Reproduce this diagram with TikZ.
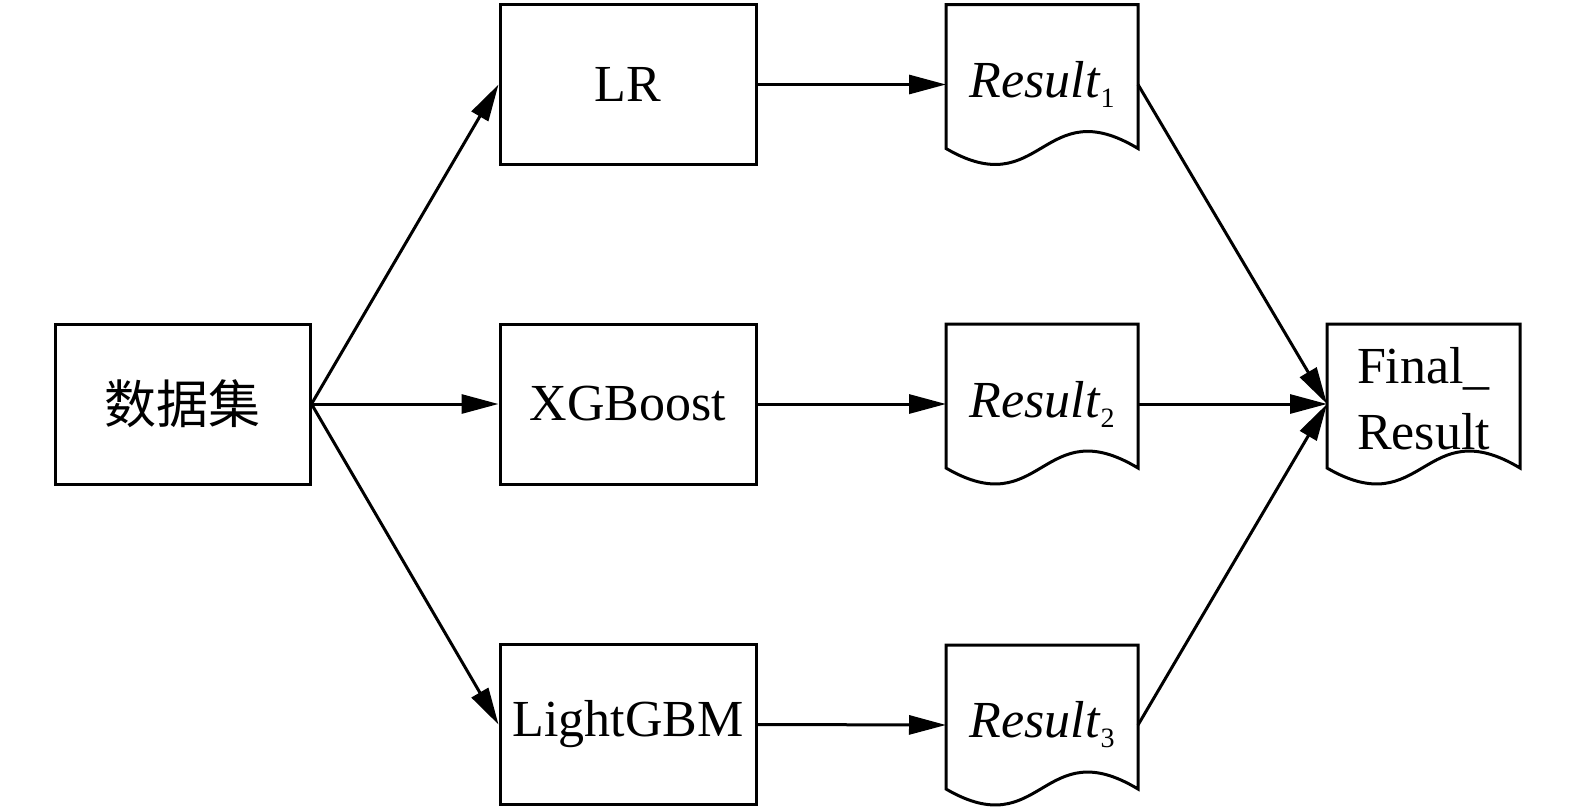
\documentclass[tikz,border=0pt]{standalone}
\usepackage{fontspec}
\setmainfont{Liberation Serif}
\newfontfamily\cjk{Noto Sans CJK SC}
\usetikzlibrary{arrows.meta,calc}
\tikzset{
  boxnode/.style={draw, line width=1.5pt, minimum width=128pt, minimum height=80pt, inner sep=0pt, font=\fontsize{26}{30.5}\selectfont},
  docnode/.style={minimum width=96pt, minimum height=80pt, inner sep=0pt, outer sep=0pt, font=\fontsize{26}{30.5}\selectfont, align=center},
  docline/.style={line width=1.5pt, line join=miter},
  conn/.style={line width=1.5pt, -{Triangle[length=18.5pt,width=9.5pt]}}
}
\newcommand{\docoutline}[1]{%
  \draw[docline] (#1.north west) -- (#1.north east) -- ($(#1.south east)+(0,-16)$)
    .. controls ($(#1.south)+(0,-74)$) and ($(#1.south)+(0,40)$) .. ($(#1.south west)+(0,-16)$) -- cycle;}
\newcommand{\res}[1]{\raisebox{2.5pt}{\textit{Result}\raisebox{-5pt}{\fontsize{14}{14}\selectfont #1}}}
\begin{document}
\begin{tikzpicture}[x=0.5pt,y=-0.5pt]
\useasboundingbox (0,0) rectangle (1575,810);
\node[boxnode, minimum width=127.5pt] (data) at (182.5,404) {\cjk 数据集};
\node[boxnode] (lr) at (628,84.5) {LR};
\node[boxnode] (xgb) at (628,404) {XGBoost};
\node[boxnode] (lgbm) at (628,724.5) {LightGBM};
\node[docnode] (r1) at (1042,84.5) {\res{1}};
\node[docnode] (r2) at (1042,404) {\res{2}};
\node[docnode] (r3) at (1042,725) {\res{3}};
\node[docnode, minimum width=96.5pt] (fin) at (1423.5,404) {\raisebox{3pt}{\begin{tabular}{@{}l@{}}Final\_\\[2.5pt]Result\end{tabular}}};
\docoutline{r1}
\docoutline{r2}
\docoutline{r3}
\docoutline{fin}
\draw[conn] (data.east) -- (lr.west);
\draw[conn] (data.east) -- (xgb.west);
\draw[conn] (data.east) -- (lgbm.west);
\draw[conn] (lr.east) -- (r1.west);
\draw[conn] (xgb.east) -- (r2.west);
\draw[conn] (lgbm.east) -- (r3.west);
\draw[conn] (r1.east) -- (fin.west);
\draw[conn] (r2.east) -- (fin.west);
\draw[conn] (r3.east) -- (fin.west);
\end{tikzpicture}
\end{document}
